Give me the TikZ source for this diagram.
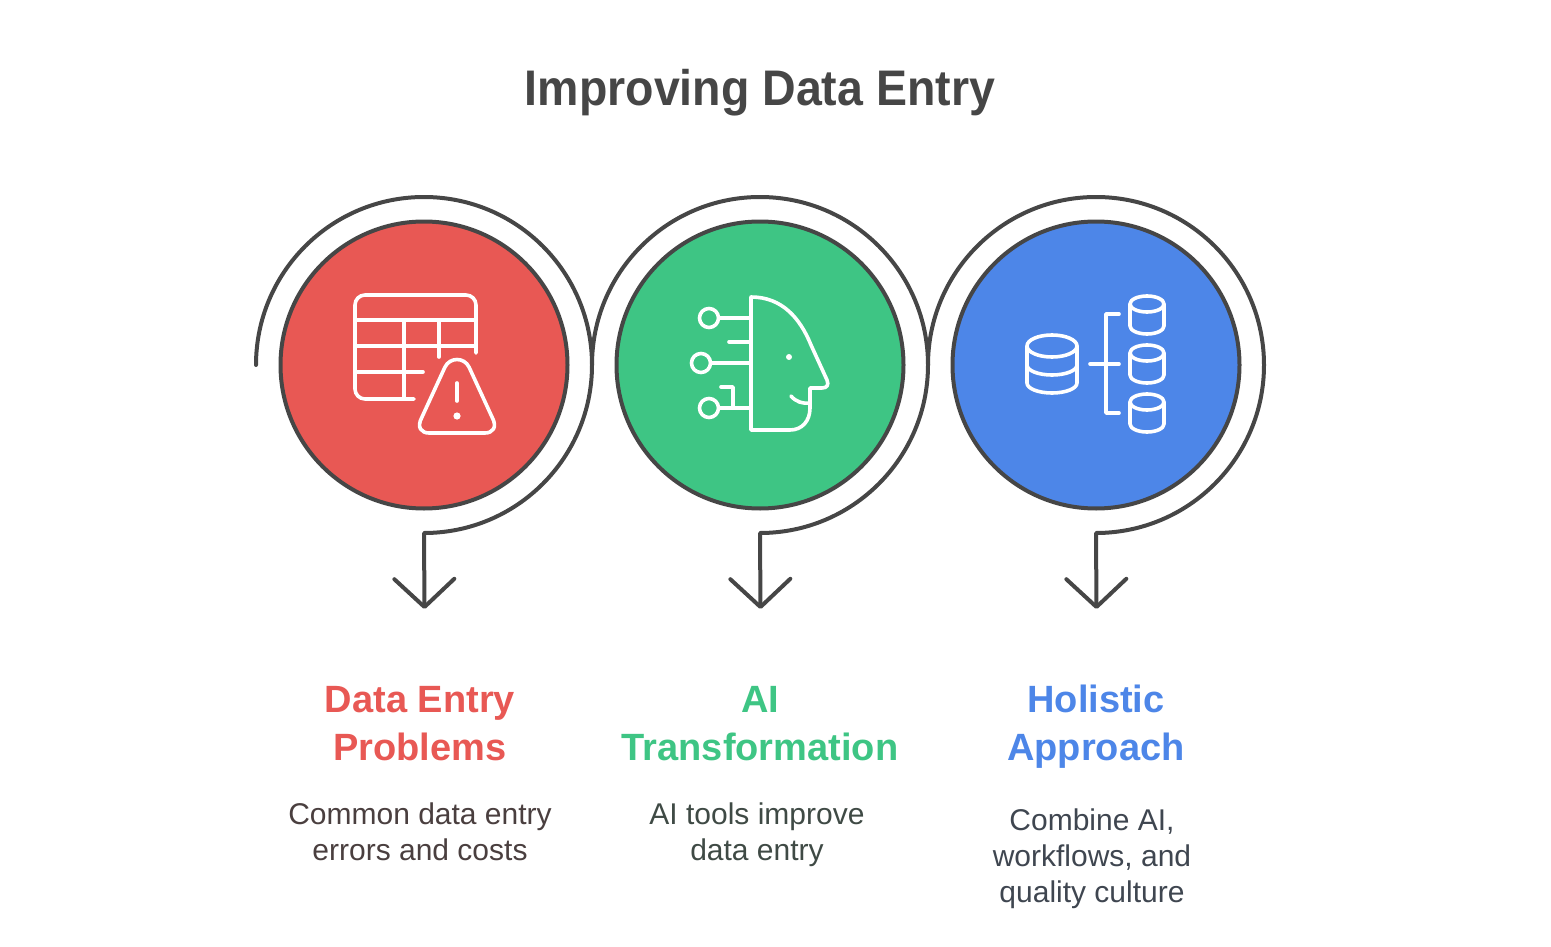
\documentclass[tikz,border=0pt]{standalone}
\usepackage{fontspec}
\setmainfont{Liberation Sans}
\newfontfamily\titlefont[FakeStretch=0.93]{Liberation Sans}
\usetikzlibrary{arrows.meta,shapes.geometric}
\definecolor{inkdark}{HTML}{464646}
\definecolor{probred}{HTML}{E85854}
\definecolor{aigreen}{HTML}{3EC584}
\definecolor{holblue}{HTML}{4D86E8}
\definecolor{probtxt}{HTML}{4A3F3F}
\definecolor{aitxt}{HTML}{3F4A45}
\definecolor{holtxt}{HTML}{3F4650}

\begin{document}
\begin{tikzpicture}[x=1pt,y=-1pt,line cap=round,line join=round]
  \tikzset{
  stage_c/.style = {circle, draw=inkdark, line width=4pt, inner sep=0pt,
    minimum size=287pt},
  stage_f/.style = {draw=inkdark, line width=4pt,
    -{Straight Barb[length=28pt,width=60pt,line width=4pt,round]}},
  stage_h/.style = {align=center, font=\fontsize{38}{48}\selectfont\bfseries},% heading
  stage_d/.style = {align=center, font=\fontsize{30}{36}\selectfont},% description
  ico/.style = {draw=white, line width=3.6pt}
}
\useasboundingbox (0,0) rectangle (1551,947);

\node [font=\fontsize{50}{56}\selectfont\titlefont\bfseries, text=inkdark] (title) at (760,92.5) {Improving Data Entry};

% circles
\node [stage_c, fill=probred] (prob) at (424,365) {};
\node [stage_c, fill=aigreen] (ai) at (760,365) {};
\node [stage_c, fill=holblue] (hol) at (1096,365) {};

% wrap arcs and arrows
\coordinate (prob_s) at (256,365);
\coordinate (prob_t) at (424.5,609);
\coordinate (ai_s) at (592,365);
\coordinate (ai_t) at (760.5,609);
\coordinate (hol_s) at (928,365);
\coordinate (hol_t) at (1096.5,609);
\draw [stage_f] (prob_s) arc[start angle=180,end angle=450,radius=168] -- (prob_t);
\draw [stage_f] (ai_s) arc[start angle=180,end angle=450,radius=168] -- (ai_t);
\draw [stage_f] (hol_s) arc[start angle=180,end angle=450,radius=168] -- (hol_t);

% table with warning
\draw [ico] (476,353) -- (476,305) arc[start angle=0,end angle=-90,radius=10] -- (365,295)
  arc[start angle=270,end angle=180,radius=10] -- (355,389)
  arc[start angle=180,end angle=90,radius=10] -- (414,399);
\draw [ico] (355,320) -- (476,320) (355,346) -- (476,346) (355,372) -- (423,372);
\draw [ico] (404,320) -- (404,399) (439,320) -- (439,357);
\draw [ico] (445,367) .. controls (450,357) and (464,357) .. (469,367) -- (492,417)
  .. controls (498,428) and (492,433) .. (485,433) -- (429,433)
  .. controls (422,433) and (416,428) .. (422,417) -- cycle;
\draw [ico] (457,383) -- (457,401);
\fill [white] (457,416) circle[radius=3.6];

% head
\draw [ico] (751,297) .. controls (782,297) and (800,318) .. (811,345) -- (827,380)
  .. controls (829,385) and (827,388) .. (822,388) -- (810,388) -- (810,408)
  .. controls (810,421) and (802,430) .. (790,430) -- (751,430) -- cycle;
\draw [ico] (791,396) .. controls (796,402) and (803,404) .. (810,403);
\fill [white] (789,357) circle[radius=3];
\draw [ico] (709,318) circle[radius=9.5] (701,363) circle[radius=9.5] (709,408) circle[radius=9.5];
\draw [ico] (719,318) -- (751,318) (729,342) -- (751,342) (711,363) -- (751,363) (719,408) -- (751,408);
\draw [ico] (721,387) -- (733,387) -- (733,408);

% databases
\draw [ico] (1052,346) ellipse[x radius=25,y radius=11];
\draw [ico] (1027,346) -- (1027,383) arc[start angle=180,end angle=0,x radius=25,y radius=10] -- (1077,346);
\draw [ico] (1027,365) arc[start angle=180,end angle=0,x radius=25,y radius=10];
\foreach \y in {304,353,402}{
  \draw [ico] (1147,\y) ellipse[x radius=17,y radius=8];
  \draw [ico] (1130,\y) -- (1130,\y+22) arc[start angle=180,end angle=0,x radius=17,y radius=8] -- (1164,\y);
}
\draw [ico] (1119,314) -- (1106,314) -- (1106,413) -- (1119,413) (1090,364) -- (1119,364);

% labels
\node [stage_h, text=probred] (prob_h) at (420,724) {Data Entry\\Problems};
\node [stage_h, text=aigreen] (ai_h) at (760,724) {AI\\Transformation};
\node [stage_h, text=holblue] (hol_h) at (1096,727) {Holistic\\Approach};
\node [stage_d, text=probtxt] (prob_d) at (420,832) {Common data entry\\errors and costs};
\node [stage_d, text=aitxt] (ai_d) at (757,835) {AI tools improve\\data entry};
\node [stage_d, text=holtxt] (hol_d) at (1092,858.5) {Combine AI,\\workflows, and\\quality culture};
\end{tikzpicture}
\end{document}
